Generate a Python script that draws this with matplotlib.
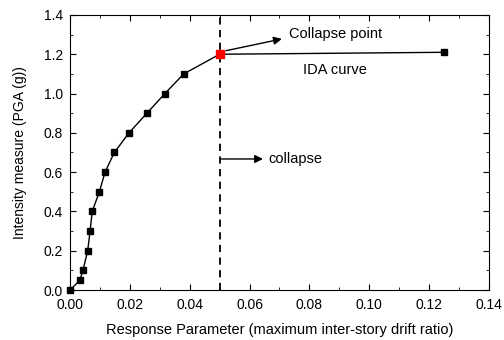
import matplotlib
matplotlib.use("Agg")
import matplotlib.pyplot as plt
from matplotlib.ticker import MultipleLocator

# IDA curve points
drift = [0.0, 0.0033, 0.0043, 0.0059, 0.0067, 0.0074, 0.0098, 0.0117, 0.0148,
         0.0197, 0.0257, 0.0317, 0.038, 0.050, 0.125]
pga = [0.0, 0.05, 0.1, 0.2, 0.3, 0.4, 0.5, 0.6, 0.7, 0.8, 0.9, 1.0, 1.1, 1.2, 1.21]
collapse_drift = 0.05
collapse_pga = 1.2

plt.rcParams["font.family"] = ["Liberation Sans", "DejaVu Sans"]

fig = plt.figure(figsize=(5.04, 3.4), dpi=100)
ax = fig.add_axes([0.139, 0.147, 0.831, 0.809])

ax.plot(drift, pga, color="black", lw=1.0, marker="s", ms=5, mfc="black", mec="black",
        clip_on=False, zorder=4)
ax.plot([collapse_drift], [collapse_pga], marker="s", ms=5.5, color="red", ls="none", zorder=5)
ax.axvline(collapse_drift, color="black", ls=(0, (4, 3)), lw=1.3)

arrow = dict(arrowstyle="-|>", color="black", lw=1.0, mutation_scale=12, shrinkA=0, shrinkB=0)
ax.annotate("", xy=(0.0708, 1.278), xytext=(0.0521, 1.218), arrowprops=arrow)
ax.text(0.0732, 1.304, "Collapse point", fontsize=10.5, va="center", ha="left")
ax.text(0.0778, 1.122, "IDA curve", fontsize=10.5, va="center", ha="left")
ax.annotate("", xy=(0.0645, 0.667), xytext=(0.0505, 0.667), arrowprops=arrow)
ax.text(0.0662, 0.667, "collapse", fontsize=10.5, va="center", ha="left")

ax.set_xlim(0, 0.14)
ax.set_ylim(0, 1.4)
ax.xaxis.set_major_locator(MultipleLocator(0.02))
ax.xaxis.set_minor_locator(MultipleLocator(0.01))
ax.yaxis.set_major_locator(MultipleLocator(0.2))
ax.yaxis.set_minor_locator(MultipleLocator(0.1))
ax.xaxis.set_major_formatter(lambda v, p: "%.2f" % v)
ax.yaxis.set_major_formatter(lambda v, p: "%.1f" % v)
ax.tick_params(which="both", direction="in", top=True, right=True, labelsize=10)
ax.tick_params(which="major", length=4)
ax.tick_params(which="minor", length=2)
ax.tick_params(axis="x", which="major", pad=6)
ax.tick_params(axis="y", which="major", pad=5)

ax.set_xlabel("Response Parameter (maximum inter-story drift ratio)", fontsize=10.5, labelpad=8)
ax.set_ylabel("Intensity measure (PGA (g))", fontsize=10, labelpad=12)

fig.savefig("out.png", dpi=100)
